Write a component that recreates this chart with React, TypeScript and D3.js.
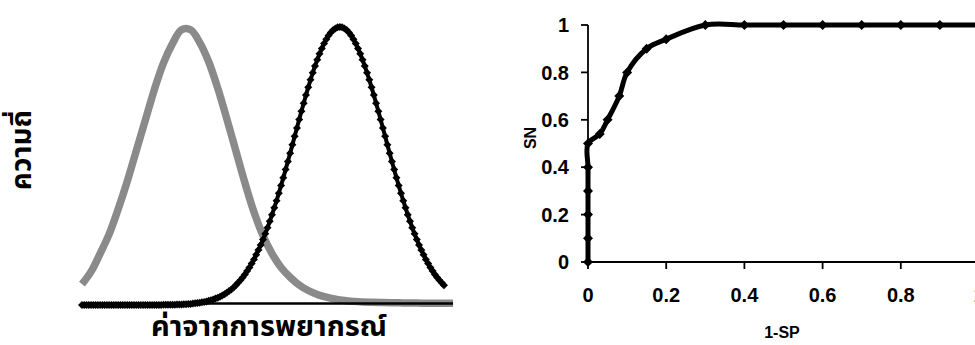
import React from 'react';
import * as d3 from 'd3';

const W = 975;
const H = 345;

// ---------- Left panel: two frequency distributions ----------
const leftXLabel = 'ค่าจากการพยากรณ์';
const leftYLabel = 'ความถี่';
const predictionStart = -2.3;
const predictionEnd = 5.9;
const grayStep = 0.2;
const blackStep = 0.05;

// gray distribution (no markers), x = -2.3 .. 5.9 step 0.2
const grayFreq = [
  0.075, 0.12, 0.185, 0.255, 0.345, 0.445, 0.555, 0.665, 0.775, 0.87,
  0.94, 0.99, 0.99, 0.945, 0.875, 0.78, 0.67, 0.555, 0.44, 0.335,
  0.25, 0.185, 0.135, 0.1, 0.072, 0.052, 0.038, 0.028, 0.021, 0.016,
  0.013, 0.011, 0.01, 0.009, 0.008, 0.008, 0.007, 0.007, 0.006, 0.006,
  0.006, 0.006,
];

// black distribution (diamond markers), x = -2.3 .. 5.7 step 0.05
const blackFreq = [
  0, 0, 0, 0, 0, 0, 0, 0, 0, 0, 0, 0, 0, 0, 0, 0, 0, 0, 0, 0,
  0, 0, 0, 0, 0, 0, 0, 0, 0, 0, 0, 0, 0, 0, 0,
  0.0, 0.001, 0.001, 0.001, 0.001, 0.001, 0.001, 0.002, 0.002, 0.002,
  0.003, 0.003, 0.004, 0.004, 0.005, 0.006, 0.007, 0.008, 0.01, 0.011,
  0.013, 0.015, 0.017, 0.02, 0.023, 0.026, 0.03, 0.034, 0.039, 0.044,
  0.05, 0.056, 0.063, 0.071, 0.08, 0.089, 0.099, 0.11, 0.122, 0.135,
  0.149, 0.164, 0.181, 0.198, 0.216, 0.236, 0.256, 0.278, 0.301, 0.325,
  0.35, 0.375, 0.402, 0.43, 0.458, 0.487, 0.516, 0.546, 0.576, 0.607,
  0.637, 0.667, 0.697, 0.726, 0.755, 0.783, 0.81, 0.835, 0.86, 0.882,
  0.904, 0.923, 0.941, 0.956, 0.969, 0.98, 0.989, 0.995, 0.999, 1.0,
  0.999, 0.995, 0.989, 0.98, 0.969, 0.956, 0.941, 0.923, 0.904, 0.882,
  0.86, 0.835, 0.81, 0.783, 0.755, 0.726, 0.697, 0.667, 0.637, 0.607,
  0.576, 0.546, 0.516, 0.487, 0.458, 0.43, 0.402, 0.375, 0.35, 0.325,
  0.301, 0.278, 0.256, 0.236, 0.216, 0.198, 0.181, 0.164, 0.149, 0.135,
  0.122, 0.11, 0.099, 0.089, 0.08, 0.071,
];

// ---------- Right panel: ROC curve ----------
const rocFpr = [0, 0, 0, 0, 0, 0, 0.03, 0.05, 0.08, 0.1, 0.15, 0.2, 0.3, 0.4, 0.5, 0.6, 0.7, 0.8, 0.9, 1];
const rocSn = [0, 0.1, 0.2, 0.3, 0.4, 0.5, 0.54, 0.6, 0.7, 0.8, 0.9, 0.94, 1, 1, 1, 1, 1, 1, 1, 1];
const rocTicks = [0, 0.2, 0.4, 0.6, 0.8, 1];
const rocXLabel = '1-SP';
const rocYLabel = 'SN';

const diamond = (r: number) => `M0,${-r}L${r},0L0,${r}L${-r},0Z`;
const thaiFont = "'Noto Sans Thai', 'Noto Sans Thai Looped', Tahoma, 'DejaVu Sans', sans-serif";
const latinFont = "'Liberation Sans', Arial, sans-serif";

export default function App() {
  // left scales
  const xL = d3.scaleLinear().domain([predictionStart, predictionEnd]).range([82, 453]);
  const yL = d3.scaleLinear().domain([0, 1]).range([305, 27]);
  const grayPts = grayFreq.map((v, i) => [predictionStart + i * grayStep, v] as [number, number]);
  const blackPts = blackFreq.map((v, i) => [predictionStart + i * blackStep, v] as [number, number]);
  const grayLine = d3.line<[number, number]>().x(d => xL(d[0])).y(d => yL(d[1])).curve(d3.curveCatmullRom.alpha(0.5));
  const blackLine = d3.line<[number, number]>().x(d => xL(d[0])).y(d => yL(d[1]));

  // right scales
  const xR = d3.scaleLinear().domain([0, 1]).range([588, 979]);
  const yR = d3.scaleLinear().domain([0, 1]).range([262, 25]);
  const rocPts = rocFpr.map((f, i) => [f, rocSn[i]] as [number, number]);
  const rocLine = d3.line<[number, number]>().x(d => xR(d[0])).y(d => yR(d[1])).curve(d3.curveCatmullRom.alpha(0.5));

  return (
    <svg width={W} height={H} style={{ position: 'absolute', left: 0, top: 0, background: '#fff', overflow: 'hidden' }}>
      {/* Left panel */}
      <path d={grayLine(grayPts) || ''} fill="none" stroke="#8a8a8a" strokeWidth={7.5} />
      <line x1={xL(predictionStart)} x2={453} y1={yL(0) - 1.5} y2={yL(0) - 1.5} stroke="#000" strokeWidth={2.5} />
      <path d={blackLine(blackPts) || ''} fill="none" stroke="#000" strokeWidth={4} />
      {blackPts.map((p, i) => (
        <path key={i} d={diamond(4)} transform={`translate(${xL(p[0])},${yL(p[1])})`} fill="#000" />
      ))}
      <text x={269} y={336} textAnchor="middle" fontFamily={thaiFont} fontWeight="bold" fontSize={29} fill="#000">
        {leftXLabel}
      </text>
      <text transform="translate(31,150) rotate(-90)" textAnchor="middle" fontFamily={thaiFont} fontWeight="bold" fontSize={28} fill="#000">
        {leftYLabel}
      </text>

      {/* Right panel */}
      <line x1={xR(0)} x2={xR(0)} y1={yR(0)} y2={yR(1)} stroke="#000" strokeWidth={1.8} />
      <line x1={xR(0)} x2={xR(1)} y1={yR(0)} y2={yR(0)} stroke="#000" strokeWidth={1.8} />
      {rocTicks.map(t => (
        <g key={'y' + t}>
          <line x1={xR(0) - 7} x2={xR(0)} y1={yR(t)} y2={yR(t)} stroke="#000" strokeWidth={1.8} />
          <text x={xR(0) - 19} y={yR(t)} dy="0.36em" textAnchor="end" fontFamily={latinFont} fontWeight="bold" fontSize={20} fill="#000">
            {d3.format('')(t)}
          </text>
        </g>
      ))}
      {rocTicks.map(t => (
        <g key={'x' + t}>
          <line x1={xR(t)} x2={xR(t)} y1={yR(0)} y2={yR(0) + 7} stroke="#000" strokeWidth={1.8} />
          <text x={xR(t)} y={302} textAnchor="middle" fontFamily={latinFont} fontWeight="bold" fontSize={20} fill="#000">
            {d3.format('')(t)}
          </text>
        </g>
      ))}
      <path d={rocLine(rocPts) || ''} fill="none" stroke="#000" strokeWidth={5} />
      {rocPts.map((p, i) => (
        <path key={i} d={diamond(5)} transform={`translate(${xR(p[0])},${yR(p[1])})`} fill="#000" />
      ))}
      <text x={782} y={338} textAnchor="middle" fontFamily={latinFont} fontWeight="bold" fontSize={16} fill="#000">
        {rocXLabel}
      </text>
      <text transform="translate(536,138) rotate(-90)" textAnchor="middle" fontFamily={latinFont} fontWeight="bold" fontSize={16} fill="#000">
        {rocYLabel}
      </text>
    </svg>
  );
}
